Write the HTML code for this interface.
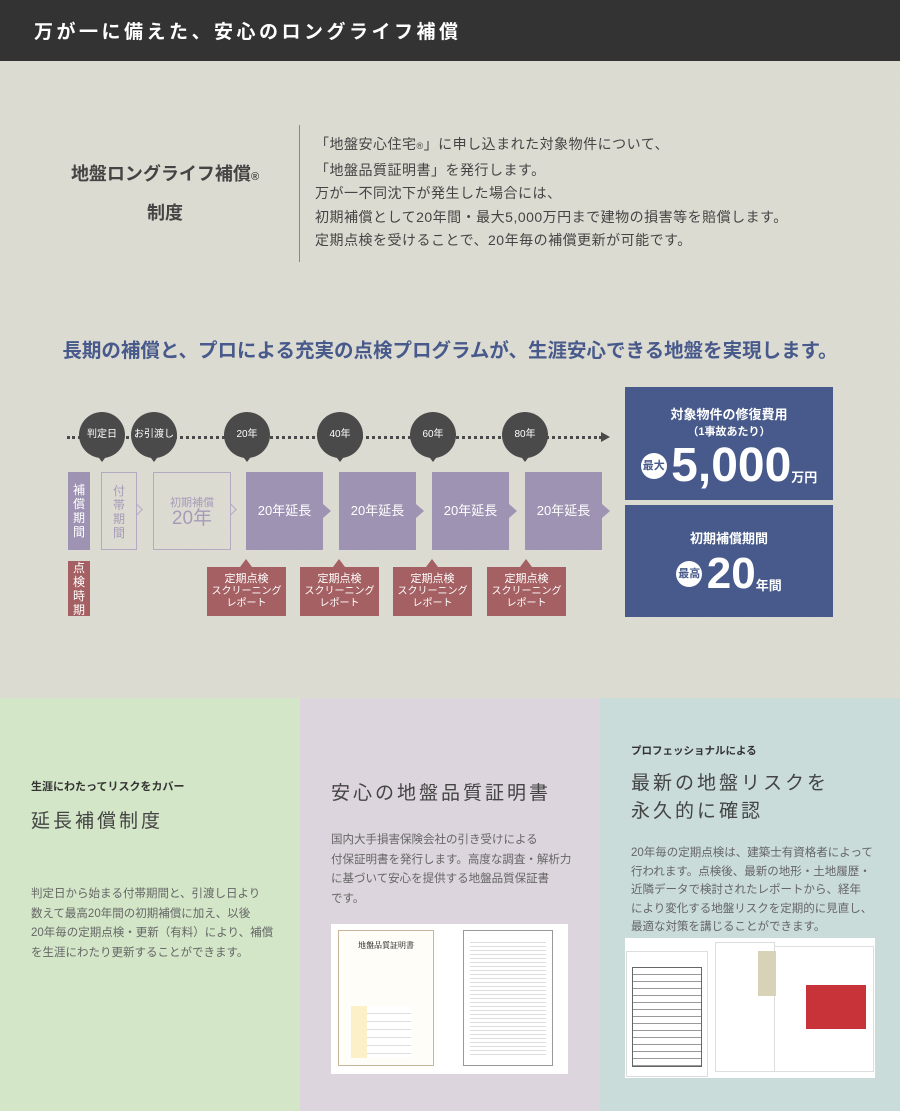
<!DOCTYPE html>
<html><head><meta charset="utf-8"><style>
*{margin:0;padding:0;box-sizing:border-box}
body{width:900px;height:1111px;position:relative;overflow:hidden;font-family:"Liberation Sans","Noto Sans CJK JP",sans-serif;background:#dcdbd2}
.a{position:absolute}
.hdr{left:0;top:0;width:900px;height:61px;background:#333;color:#fff;font-size:19px;font-weight:bold;letter-spacing:3.5px;padding:17px 0 0 34px}
.bg{left:0;top:61px;width:900px;height:637px;background-color:#dcdbd2;background-image:linear-gradient(45deg,rgba(255,255,255,.18) 1px,transparent 1px),linear-gradient(-45deg,rgba(255,255,255,.18) 1px,transparent 1px);background-size:14px 14px}
.bub{width:46px;height:46px;border-radius:50%;background:#4a4a4a;color:#fff;font-size:10px;text-align:center;line-height:46px}
.bub:after{content:"";position:absolute;left:17px;top:42px;border-left:6px solid transparent;border-right:6px solid transparent;border-top:8px solid #4a4a4a}
.ext{width:77px;height:78px;background:#9e93b2;color:#fff;font-size:13px;text-align:center;line-height:78px}
.ext:after{content:"";position:absolute;right:-8px;top:32px;border-top:7px solid transparent;border-bottom:7px solid transparent;border-left:8px solid #9e93b2}
.ins{width:79px;height:49px;background:#a46062;color:#fff;text-align:center;font-size:10px;padding-top:6px;line-height:12px}
.ins b{font-size:11px;font-weight:normal;display:block;margin-bottom:1px}
.ins:before{content:"";position:absolute;left:33px;top:-8px;border-left:6px solid transparent;border-right:6px solid transparent;border-bottom:8px solid #a46062}
.vt{color:#fff;font-size:12px;text-align:center;line-height:14px}
.blue{background:#475a8b;color:#fff;text-align:center;width:208px}
.circ{display:inline-block;width:26px;height:26px;border-radius:50%;background:#fff;color:#475a8b;font-size:11px;font-weight:bold;line-height:26px;vertical-align:middle}
.panel h4{font-size:11px;color:#333;font-weight:bold}
.panel h3{font-size:19px;color:#444;font-weight:normal;letter-spacing:3px}
.panel p{font-size:11.5px;color:#666;line-height:19.5px}
</style></head><body>
<div class="a hdr">万が一に備えた、安心のロングライフ補償</div>
<div class="a bg"></div>
<div class="a" style="left:30px;top:156px;width:270px;text-align:center;font-size:18px;font-weight:bold;color:#444;line-height:36px">地盤ロングライフ補償<span style="font-size:11px">®</span><br>制度</div>
<div class="a" style="left:299px;top:125px;width:1px;height:137px;background:#888"></div>
<div class="a" style="left:315px;top:133px;font-size:14px;letter-spacing:0.5px;color:#444;line-height:23.5px">「地盤安心住宅<span style="font-size:9px">®</span>」に申し込まれた対象物件について、<br>「地盤品質証明書」を発行します。<br>万が一不同沈下が発生した場合には、<br>初期補償として20年間・最大5,000万円まで建物の損害等を賠償します。<br>定期点検を受けることで、20年毎の補償更新が可能です。</div>
<div class="a" style="left:0;top:334px;width:900px;text-align:center;font-size:19.5px;font-weight:bold;color:#475a8b">長期の補償と、プロによる充実の点検プログラムが、生涯安心できる地盤を実現します。</div>
<div class="a" style="left:67px;top:436px;width:535px;border-top:3px dotted #4a4a4a"></div>
<div class="a" style="left:601px;top:432px;border-top:5px solid transparent;border-bottom:5px solid transparent;border-left:9px solid #4a4a4a"></div>
<div class="a bub" style="left:79px;top:412px">判定日</div>
<div class="a bub" style="left:131px;top:412px">お引渡し</div>
<div class="a bub" style="left:224px;top:412px">20年</div>
<div class="a bub" style="left:317px;top:412px">40年</div>
<div class="a bub" style="left:410px;top:412px">60年</div>
<div class="a bub" style="left:502px;top:412px">80年</div>
<div class="a vt" style="left:68px;top:472px;width:22px;height:78px;background:#9e93b2;padding-top:11px">補<br>償<br>期<br>間</div>
<div class="a vt" style="left:68px;top:561px;width:22px;height:55px;background:#a46062;padding-top:0">点<br>検<br>時<br>期</div>
<div class="a vt" style="left:101px;top:472px;width:36px;height:78px;border:1.5px solid #b3aac4;color:#a59cb9;padding-top:11px">付<br>帯<br>期<br>間</div>
<div class="a" style="left:132px;top:505px;width:9px;height:9px;border-top:1.5px solid #b3aac4;border-right:1.5px solid #b3aac4;transform:rotate(45deg)"></div>
<div class="a" style="left:153px;top:472px;width:78px;height:78px;border:1.5px solid #b3aac4;color:#a59cb9;text-align:center;padding-top:22px;font-size:11px;line-height:16px">初期補償<br><span style="font-size:19px">20年</span></div>
<div class="a" style="left:226px;top:505px;width:9px;height:9px;border-top:1.5px solid #b3aac4;border-right:1.5px solid #b3aac4;transform:rotate(45deg)"></div>
<div class="a ext" style="left:246px;top:472px">20年延長</div>
<div class="a ext" style="left:339px;top:472px">20年延長</div>
<div class="a ext" style="left:432px;top:472px">20年延長</div>
<div class="a ext" style="left:525px;top:472px">20年延長</div>
<div class="a ins" style="left:207px;top:567px"><b>定期点検</b>スクリーニング<br>レポート</div>
<div class="a ins" style="left:300px;top:567px"><b>定期点検</b>スクリーニング<br>レポート</div>
<div class="a ins" style="left:393px;top:567px"><b>定期点検</b>スクリーニング<br>レポート</div>
<div class="a ins" style="left:487px;top:567px"><b>定期点検</b>スクリーニング<br>レポート</div>
<div class="a blue" style="left:625px;top:387px;height:113px;padding-top:20px"><div style="font-size:13px;font-weight:bold;line-height:16px">対象物件の修復費用<br><span style="font-size:11px">（1事故あたり）</span></div><div style="margin-top:0;white-space:nowrap"><span class="circ">最大</span> <span style="font-size:48px;font-weight:bold;vertical-align:middle;line-height:52px">5,000</span><span style="font-size:13px;font-weight:bold;vertical-align:-12px">万円</span></div></div>
<div class="a blue" style="left:625px;top:505px;height:112px;padding-top:23px"><div style="font-size:13px;font-weight:bold">初期補償期間</div><div style="margin-top:2px;white-space:nowrap"><span class="circ">最高</span> <span style="font-size:44px;font-weight:bold;vertical-align:middle">20</span><span style="font-size:13px;font-weight:bold;vertical-align:-12px">年間</span></div></div>

<div class="a panel" style="left:0;top:698px;width:300px;height:413px;background:#d3e6c8;padding:80px 0 0 31px">
<h4>生涯にわたってリスクをカバー</h4><h3 style="margin-top:12px">延長補償制度</h3>
<p style="margin-top:52px">判定日から始まる付帯期間と、引渡し日より<br>数えて最高20年間の初期補償に加え、以後<br>20年毎の定期点検・更新（有料）により、補償<br>を生涯にわたり更新することができます。</p></div>
<div class="a panel" style="left:300px;top:698px;width:300px;height:413px;background:#ddd5de;padding:80px 0 0 31px">
<h3>安心の地盤品質証明書</h3>
<p style="margin-top:26px">国内大手損害保険会社の引き受けによる<br>付保証明書を発行します。高度な調査・解析力<br>に基づいて安心を提供する地盤品質保証書<br>です。</p></div>
<div class="a" style="left:331px;top:924px;width:237px;height:150px;background:#fff"></div>
<div class="a" style="left:338px;top:930px;width:96px;height:136px;border:1px solid #c9b49a;background:#fffdf8"><div style="text-align:center;font-size:8px;font-family:'Noto Serif CJK SC',serif;margin-top:9px">地盤品質証明書</div><div style="margin:55px 0 0 12px;width:60px;height:52px;background:linear-gradient(#fbf0c8,#fbf0c8) 0 0/16px 100% no-repeat,repeating-linear-gradient(#fff 0 7px,#ddd 7px 8px)"></div></div>
<div class="a" style="left:463px;top:930px;width:90px;height:136px;border:1px solid #999;background:repeating-linear-gradient(#fff 0 3px,#ddd 3px 4px);background-clip:content-box;padding:10px 6px"></div>
<div class="a panel" style="left:600px;top:698px;width:300px;height:413px;background:#c9dcda;padding:45px 0 0 31px">
<h4 style="font-size:10.5px">プロフェッショナルによる</h4><h3 style="margin-top:12px;line-height:28px">最新の地盤リスクを<br>永久的に確認</h3>
<p style="margin-top:18px;line-height:18.5px">20年毎の定期点検は、建築士有資格者によって<br>行われます。点検後、最新の地形・土地履歴・<br>近隣データで検討されたレポートから、経年<br>により変化する地盤リスクを定期的に見直し、<br>最適な対策を講じることができます。</p></div>
<div class="a" style="left:625px;top:938px;width:250px;height:140px;background:#fff"></div>
<div class="a" style="left:757px;top:946px;width:117px;height:126px;background:#fff;border:1px solid #ddd"><div style="margin:38px 0 0 48px;width:60px;height:44px;background:#c8333a"></div></div>
<div class="a" style="left:715px;top:942px;width:60px;height:130px;background:#fff;border:1px solid #ddd"><div style="margin:8px 0 0 42px;width:18px;height:45px;background:#d8d2b8"></div></div>
<div class="a" style="left:626px;top:951px;width:82px;height:126px;background:#fff;border:1px solid #ddd"><div style="margin:15px 5px 0;height:100px;border:1px solid #666;background:repeating-linear-gradient(#fff 0 6px,#999 6px 7px)"></div></div>
</body></html>
